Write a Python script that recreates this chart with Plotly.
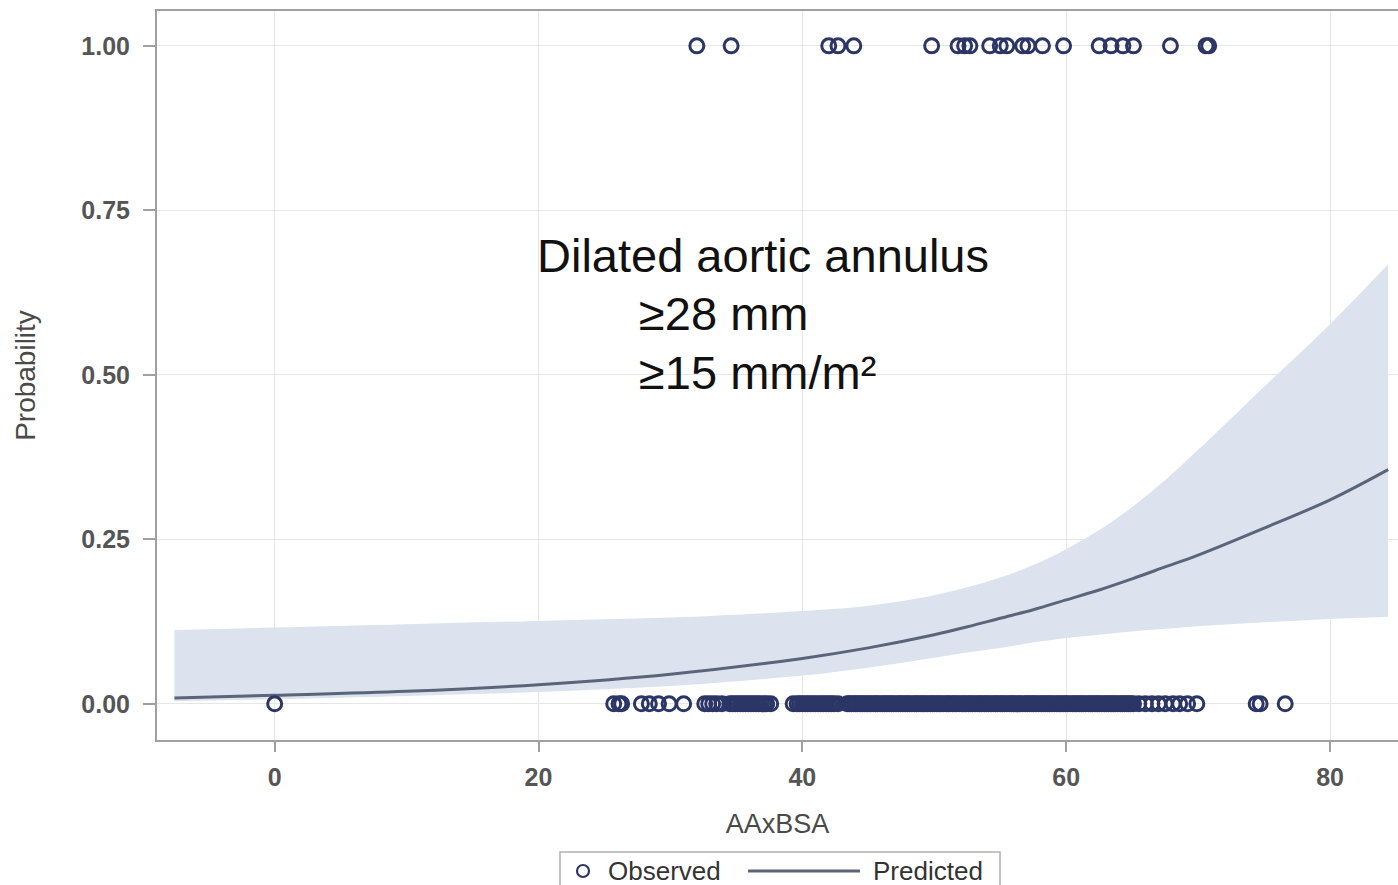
import plotly.graph_objects as go

# ---- data ----
obs_one_x = [32.0, 34.6, 42.0, 42.7, 43.9, 49.8, 51.8, 52.3, 52.7, 54.2, 55.0, 55.5,
             56.7, 57.1, 58.2, 59.8, 62.5, 63.4, 64.3, 65.1, 67.9, 70.6, 70.8]
obs_one_y = [1.0] * len(obs_one_x)

obs_zero_x = [0.0,
              25.7, 26.1, 26.3,
              27.8, 28.4, 29.1, 29.9, 31.0,
              32.6, 32.9, 33.2, 33.5, 33.9,
              34.5, 34.7, 34.9, 35.1, 35.3, 35.5, 35.7, 35.9, 36.1, 36.3, 36.5, 36.7,
              36.9, 37.1, 37.3, 37.6,
              39.3, 39.6, 39.8, 40.0, 40.2, 40.4, 40.6, 40.8, 41.0, 41.2, 41.4, 41.6,
              41.8, 42.0, 42.2, 42.4, 42.7,
              43.4, 43.55, 43.7, 43.9, 44.05, 44.2, 44.4, 44.55, 44.7, 44.9, 45.05, 45.2,
              45.4, 45.55, 45.7, 45.9, 46.1, 46.25, 46.4, 46.6, 46.75, 46.9, 47.1, 47.3,
              47.45, 47.6, 47.8, 47.95, 48.1, 48.3, 48.5, 48.65, 48.8, 49.0, 49.15, 49.3,
              49.5, 49.7, 49.85, 50.0, 50.2, 50.35, 50.5, 50.7, 50.9, 51.05, 51.2, 51.4,
              51.55, 51.7, 51.9, 52.1, 52.25, 52.4, 52.6, 52.75, 52.9, 53.1, 53.3, 53.45,
              53.6, 53.8, 53.95, 54.1, 54.3, 54.5, 54.65, 54.8, 55.0, 55.15, 55.3, 55.5,
              55.7, 55.85, 56.0, 56.2, 56.35, 56.5, 56.7, 56.9, 57.05, 57.2, 57.4, 57.55,
              57.7, 57.9, 58.1, 58.25, 58.4, 58.6, 58.75, 58.9, 59.1, 59.3, 59.45, 59.6,
              59.8, 59.95, 60.1, 60.3, 60.5, 60.65, 60.8, 61.0, 61.15, 61.3, 61.5, 61.7,
              61.85, 62.0, 62.2, 62.35, 62.5, 62.7, 62.9, 63.05, 63.2, 63.4, 63.55, 63.7,
              63.9, 64.1, 64.25, 64.4, 64.6, 64.75, 64.9, 65.1,
              65.5, 66.0, 66.5, 67.0, 67.5, 68.1, 68.6, 69.2, 69.9,
              74.4, 74.7, 76.6]
obs_zero_y = [0.0] * len(obs_zero_x)

pred_x = [-7.6, 0, 10, 20, 30, 40, 45, 50, 52.5, 55, 57.5, 60, 62.5, 65, 67.5, 70, 75, 80, 84.4]
pred_p = [0.009, 0.013, 0.019, 0.029, 0.045, 0.069, 0.085, 0.105, 0.117, 0.130, 0.143,
          0.158, 0.173, 0.190, 0.208, 0.226, 0.267, 0.310, 0.356]
upper_p = [0.112, 0.116, 0.121, 0.126, 0.131, 0.141, 0.149, 0.165, 0.177, 0.192, 0.211,
           0.235, 0.264, 0.299, 0.340, 0.386, 0.482, 0.577, 0.668]
lower_p = [0.004, 0.007, 0.012, 0.018, 0.027, 0.043, 0.055, 0.070, 0.078, 0.085, 0.093,
           0.100, 0.105, 0.110, 0.114, 0.118, 0.124, 0.129, 0.132]

x_ticks = [0, 20, 40, 60, 80]
y_ticks = [0.0, 0.25, 0.5, 0.75, 1.0]
y_tick_text = ["0.00", "0.25", "0.50", "0.75", "1.00"]

annotation_lines = ["Dilated aortic annulus", "\u226528 mm", "\u226515 mm/m\u00b2"]

# ---- styling ----
BAND = "rgba(220,227,239,1)"
LINE = "#5b6479"
MARK = "#2b3566"
FONT = "Liberation Sans, Arial, sans-serif"
W, H = 1398, 885
L, R, T, B = 157, 0, 11, 145
PW, PH = W - L - R, H - T - B


def px(xp):
    return (xp - L) / PW


def py(yp):
    return (H - B - yp) / PH


fig = go.Figure()

fig.add_trace(go.Scatter(x=pred_x, y=lower_p, mode="lines", line=dict(width=0, shape="spline"),
                         hoverinfo="skip", showlegend=False))
fig.add_trace(go.Scatter(x=pred_x, y=upper_p, mode="lines", line=dict(width=0, shape="spline"),
                         fill="tonexty", fillcolor=BAND, hoverinfo="skip", showlegend=False))
fig.add_trace(go.Scatter(x=pred_x, y=pred_p, mode="lines", name="Predicted",
                         line=dict(color=LINE, width=3, shape="spline"), showlegend=False))
fig.add_trace(go.Scatter(x=obs_zero_x + obs_one_x, y=obs_zero_y + obs_one_y, mode="markers",
                         name="Observed", showlegend=False,
                         marker=dict(symbol="circle-open", size=14, color=MARK,
                                     line=dict(width=3, color=MARK))))

axis_common = dict(showgrid=True, gridcolor="#e6e6e6", gridwidth=1, zeroline=False,
                   showline=True, linecolor="#a0a0a0", linewidth=2,
                   ticks="outside", tickcolor="#a0a0a0", tickwidth=1.5,
                   tickfont=dict(family=FONT, size=25, color="#555555", weight="bold"))

fig.update_xaxes(range=[-8.92, 85.15], tickvals=x_ticks, ticklen=10, mirror=True,
                 ticklabelstandoff=4,
                 title=dict(text="AAxBSA", font=dict(family=FONT, size=27, color="#4a4a4a"),
                            standoff=24),
                 **axis_common)
fig.update_yaxes(range=[-0.055, 1.053], tickvals=y_ticks, ticktext=y_tick_text, ticklen=12,
                 mirror=False, ticklabelstandoff=8,
                 title=dict(text="Probability", font=dict(family=FONT, size=28, color="#4a4a4a"),
                            standoff=38),
                 **axis_common)

annotations = []
ann_pos = [(535, 255), (637, 313), (637, 372)]
for txt, (ax, ay) in zip(annotation_lines, ann_pos):
    annotations.append(dict(text=txt, x=px(ax), y=py(ay), xref="paper", yref="paper",
                            xanchor="left", yanchor="middle", showarrow=False,
                            font=dict(family=FONT, size=47, color="#111111")))

# custom legend
annotations.append(dict(text="Observed", x=px(606), y=py(871), xref="paper", yref="paper",
                        xanchor="left", yanchor="middle", showarrow=False,
                        font=dict(family=FONT, size=26, color="#333333")))
annotations.append(dict(text="Predicted", x=px(871), y=py(871), xref="paper", yref="paper",
                        xanchor="left", yanchor="middle", showarrow=False,
                        font=dict(family=FONT, size=26, color="#333333")))

shapes = [
    dict(type="rect", xref="paper", yref="paper", x0=px(560), x1=px(1000), y0=py(896), y1=py(852),
         line=dict(color="#b0b0b0", width=1.5), fillcolor="rgba(0,0,0,0)", layer="above"),
    dict(type="circle", xref="paper", yref="paper", x0=px(577), x1=px(589), y0=py(877), y1=py(865),
         line=dict(color=MARK, width=2.2), layer="above"),
    dict(type="line", xref="paper", yref="paper", x0=px(748), x1=px(860), y0=py(871), y1=py(871),
         line=dict(color=LINE, width=3), layer="above"),
]

fig.update_layout(width=W, height=H, margin=dict(l=L, r=R, t=T, b=B, autoexpand=False),
                  paper_bgcolor="white", plot_bgcolor="white", showlegend=False,
                  annotations=annotations, shapes=shapes)

fig.write_html("out.html")
